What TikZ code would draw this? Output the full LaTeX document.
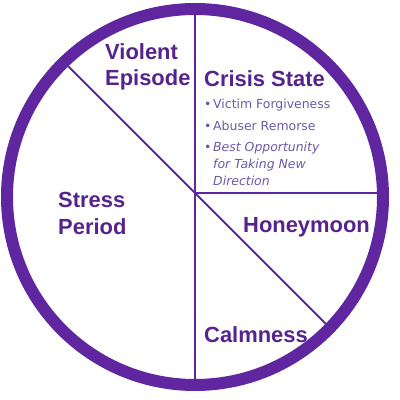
\documentclass[tikz,border=0pt]{standalone}
\usepackage{fontspec}
\setmainfont{Liberation Sans}
\newfontfamily\notefont{DejaVu Sans}
\usepackage{tikz}
\definecolor{cyclepurple}{RGB}{96,38,160}
\definecolor{stagepurple}{RGB}{86,34,140}
\definecolor{notepurple}{RGB}{108,88,170}
\newcommand{\bul}{\makebox[9bp][l]{\textbullet}}
\newcommand{\cont}{\hspace*{9bp}}

\begin{document}
\begin{tikzpicture}[x=1bp, y=1bp,
  ring/.style={draw=cyclepurple, line width=12bp},
  spoke/.style={draw=cyclepurple, line width=1.8bp},
  stage/.style={text=stagepurple, font=\fontsize{22}{27}\selectfont\bfseries, align=left, inner sep=0pt},
  note/.style={text=notepurple, font=\notefont\fontsize{12.5}{17}\selectfont, align=left, inner sep=0pt}]
\useasboundingbox (0,0) rectangle (400,400);
% ---------------- wheel ----------------
\coordinate (mid) at (195,203);
\coordinate (hub) at (195,207);
\coordinate (top) at (195,391);
\coordinate (bot) at (195,15);
\coordinate (east) at (383,207);
\coordinate (nw) at (65,337);
\coordinate (se) at (330,72);
\draw[spoke] (top) -- (bot);
\draw[spoke] (hub) -- (east);
\draw[spoke] (nw) -- (se);
\draw[ring] (mid) circle[radius=188bp];
% ---------------- stages ----------------
\node[stage, anchor=north west] (violent) at (105,357) {Violent\\Episode};
\node[stage, anchor=base west] (crisis) at (204,314) {Crisis State};
\node[note, anchor=north west] (notes) at (204,301) {\bul Victim Forgiveness\\[4.5bp]
  \bul Abuser Remorse\\[4.5bp]
  \bul\textit{Best Opportunity}\\
  \cont\textit{for Taking New}\\
  \cont\textit{Direction}};
\node[stage, anchor=north west] (stress) at (58,208) {Stress\\Period};
\node[stage, anchor=base west] (honey) at (243,168) {Honeymoon};
\node[stage, anchor=base west] (calm) at (204,58) {Calmness};
\end{tikzpicture}
\end{document}
